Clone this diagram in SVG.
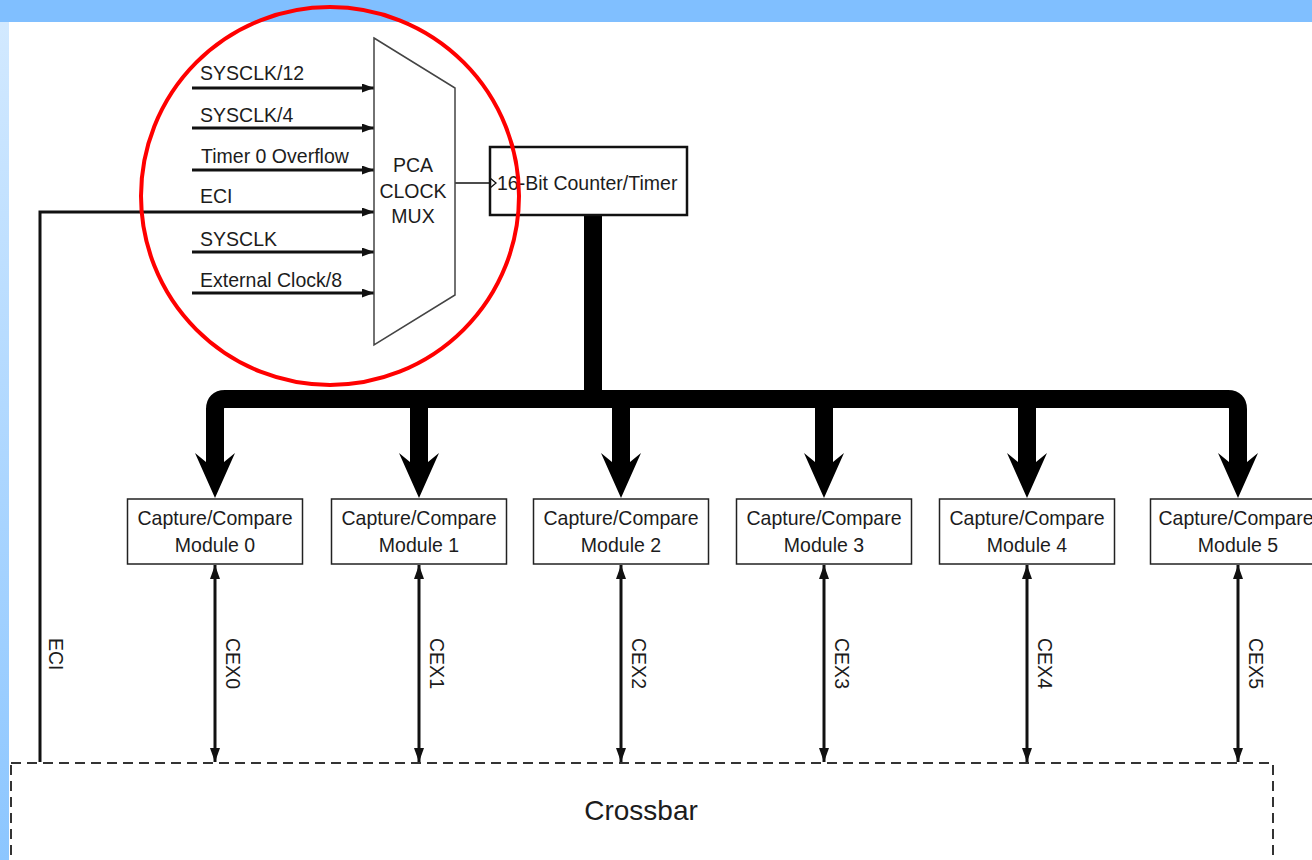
<svg xmlns="http://www.w3.org/2000/svg" width="1312" height="860" viewBox="0 0 1312 860">
  <defs>
    <linearGradient id="side" x1="0" y1="0" x2="0" y2="1">
      <stop offset="0" stop-color="#d4eaff"/>
      <stop offset="1" stop-color="#8cc6ff"/>
    </linearGradient>
    <marker id="arr" viewBox="0 0 12 9" refX="12" refY="4.5" markerWidth="12" markerHeight="9" markerUnits="userSpaceOnUse" orient="auto">
      <path d="M0,0 L12,4.5 L0,9 Z" fill="#111"/>
    </marker>
    <marker id="arr2" viewBox="0 0 14 10" refX="14" refY="5" markerWidth="14" markerHeight="10" markerUnits="userSpaceOnUse" orient="auto-start-reverse">
      <path d="M0,0 L14,5 L0,10 Z" fill="#111"/>
    </marker>
    <style>
      .t { font-family: "Liberation Sans", Arial, sans-serif; font-size: 21px; fill: #1c1c1c; }
      .c { text-anchor: middle; }
      .in { stroke: #111; stroke-width: 3; fill: none; marker-end: url(#arr); }
      .cex { stroke: #111; stroke-width: 3; fill: none; marker-start: url(#arr2); marker-end: url(#arr2); }
      .mod { fill: #fff; stroke: #222; stroke-width: 1.5; }
      .bus { stroke: #000; stroke-width: 18; fill: none; }
      .head { fill: #000; }
    </style>
  </defs>

  <!-- background -->
  <rect x="0" y="0" width="1312" height="860" fill="#ffffff"/>
  <rect x="0" y="0" width="9" height="860" fill="url(#side)"/>
  <rect x="0" y="0" width="1312" height="22" fill="#80bfff"/>

  <!-- connectors -->
  <g id="connectors">
    <path class="in" d="M192,88 H374"/>
    <path class="in" d="M192,128 H374"/>
    <path class="in" d="M192,170 H374"/>
    <path class="in" d="M40,762 V212 H374" stroke-width="2.5" stroke-linejoin="miter"/>
    <path class="in" d="M192,252 H374"/>
    <path class="in" d="M192,293 H374"/>
    <path d="M455,183 H490" stroke="#111" stroke-width="1.5" fill="none"/>
    <path d="M490,178 L496,183 L490,188" stroke="#111" stroke-width="1.3" fill="none"/>

    <!-- bus -->
    <path class="bus" d="M593,215 V399"/>
    <path class="bus" d="M215,462 V409 Q215,399 225,399 H1228 Q1238,399 1238,409 V462"/>
    <path class="bus" d="M419,399 V462"/>
    <path class="bus" d="M621,399 V462"/>
    <path class="bus" d="M824,399 V462"/>
    <path class="bus" d="M1027,399 V462"/>
    <polygon class="head" points="206,462 195,453 215,498 235,453 224,462"/>
    <polygon class="head" points="410,462 399,453 419,498 439,453 428,462"/>
    <polygon class="head" points="612,462 601,453 621,498 641,453 630,462"/>
    <polygon class="head" points="815,462 804,453 824,498 844,453 833,462"/>
    <polygon class="head" points="1018,462 1007,453 1027,498 1047,453 1036,462"/>
    <polygon class="head" points="1229,462 1218,453 1238,498 1258,453 1247,462"/>

    <!-- CEX lines -->
    <path class="cex" d="M215,565 V762"/>
    <path class="cex" d="M419,565 V762"/>
    <path class="cex" d="M621,565 V762"/>
    <path class="cex" d="M824,565 V762"/>
    <path class="cex" d="M1027,565 V762"/>
    <path class="cex" d="M1238,565 V762"/>
  </g>

  <!-- labels on connectors -->
  <g id="labels" class="t">
    <text transform="translate(200,80) scale(0.93,1)">SYSCLK/12</text>
    <text transform="translate(200,122) scale(0.93,1)">SYSCLK/4</text>
    <text transform="translate(201,163) scale(0.93,1)">Timer 0 Overflow</text>
    <text transform="translate(200,203) scale(0.93,1)">ECI</text>
    <text transform="translate(200,246) scale(0.93,1)">SYSCLK</text>
    <text transform="translate(200,287) scale(0.93,1)">External Clock/8</text>
    <text transform="translate(49,638) rotate(90) scale(0.93,1)">ECI</text>
    <text transform="translate(226,638) rotate(90) scale(0.93,1)">CEX0</text>
    <text transform="translate(430,638) rotate(90) scale(0.93,1)">CEX1</text>
    <text transform="translate(632,638) rotate(90) scale(0.93,1)">CEX2</text>
    <text transform="translate(835,638) rotate(90) scale(0.93,1)">CEX3</text>
    <text transform="translate(1038,638) rotate(90) scale(0.93,1)">CEX4</text>
    <text transform="translate(1249,638) rotate(90) scale(0.93,1)">CEX5</text>
  </g>

  <!-- nodes -->
  <g id="mux">
    <polygon points="374,38 455,88 455,295 374,345" fill="#fff" stroke="#444" stroke-width="1.5"/>
    <text class="t c" transform="translate(413,172) scale(0.93,1)">PCA</text>
    <text class="t c" transform="translate(413,198) scale(0.93,1)">CLOCK</text>
    <text class="t c" transform="translate(413,223) scale(0.93,1)">MUX</text>
  </g>

  <g id="counter">
    <rect x="490" y="147" width="197" height="68" fill="none" stroke="#111" stroke-width="2.5"/>
    <text class="t" transform="translate(497,190) scale(0.93,1)">16-Bit Counter/Timer</text>
  </g>

  <g id="module0">
    <rect class="mod" x="127.5" y="499" width="175" height="65"/>
    <text class="t c" transform="translate(215,525) scale(0.93,1)">Capture/Compare</text>
    <text class="t c" transform="translate(215,552) scale(0.93,1)">Module 0</text>
  </g>
  <g id="module1">
    <rect class="mod" x="331.5" y="499" width="175" height="65"/>
    <text class="t c" transform="translate(419,525) scale(0.93,1)">Capture/Compare</text>
    <text class="t c" transform="translate(419,552) scale(0.93,1)">Module 1</text>
  </g>
  <g id="module2">
    <rect class="mod" x="533.5" y="499" width="175" height="65"/>
    <text class="t c" transform="translate(621,525) scale(0.93,1)">Capture/Compare</text>
    <text class="t c" transform="translate(621,552) scale(0.93,1)">Module 2</text>
  </g>
  <g id="module3">
    <rect class="mod" x="736.5" y="499" width="175" height="65"/>
    <text class="t c" transform="translate(824,525) scale(0.93,1)">Capture/Compare</text>
    <text class="t c" transform="translate(824,552) scale(0.93,1)">Module 3</text>
  </g>
  <g id="module4">
    <rect class="mod" x="939.5" y="499" width="175" height="65"/>
    <text class="t c" transform="translate(1027,525) scale(0.93,1)">Capture/Compare</text>
    <text class="t c" transform="translate(1027,552) scale(0.93,1)">Module 4</text>
  </g>
  <g id="module5">
    <rect class="mod" x="1150.5" y="499" width="175" height="65"/>
    <text class="t c" transform="translate(1236,525) scale(0.93,1)">Capture/Compare</text>
    <text class="t c" transform="translate(1238,552) scale(0.93,1)">Module 5</text>
  </g>

  <g id="crossbar">
    <rect x="11" y="763" width="1262" height="120" fill="none" stroke="#333" stroke-width="2" stroke-dasharray="10,6"/>
    <text x="641" y="820" text-anchor="middle" font-family="Liberation Sans, Arial, sans-serif" font-size="28" fill="#1c1c1c">Crossbar</text>
  </g>

  <!-- highlight circle -->
  <circle id="highlight" cx="330" cy="196" r="189" fill="none" stroke="#ff0000" stroke-width="4"/>
</svg>
